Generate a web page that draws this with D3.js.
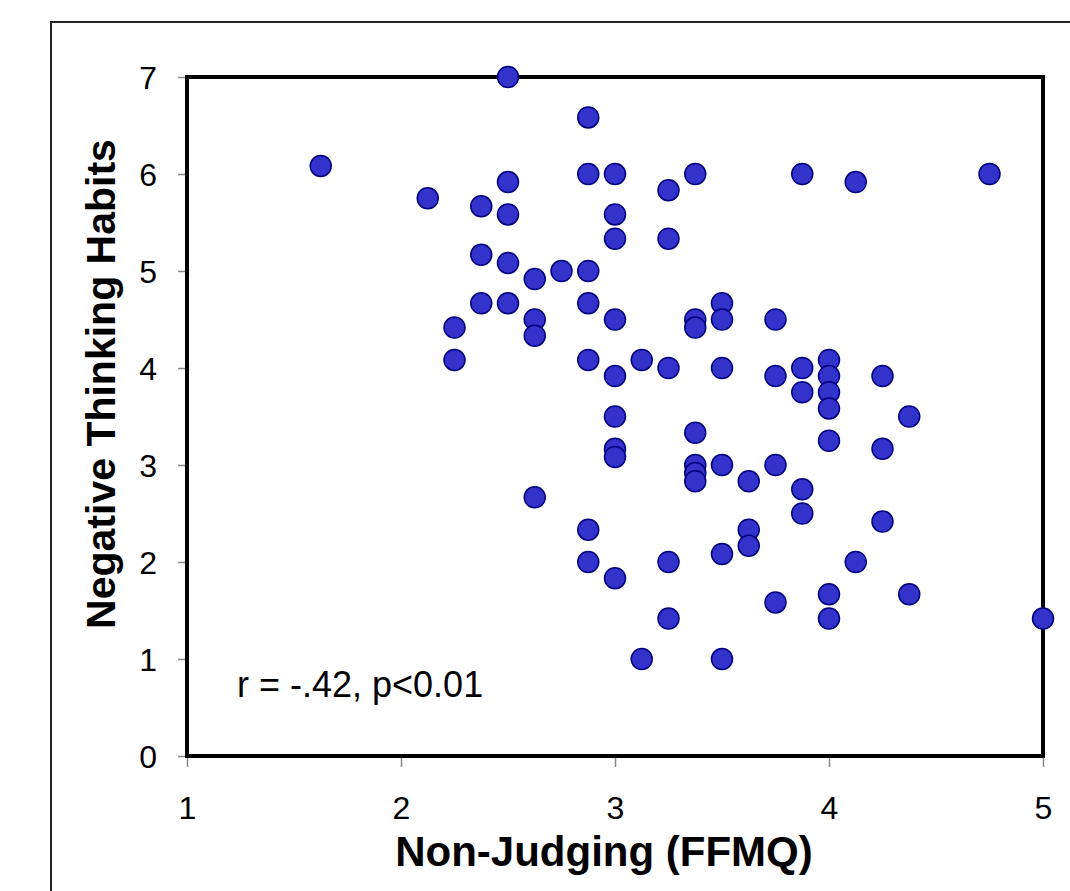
<!DOCTYPE html>
<html>
<head>
<meta charset="utf-8">
<script src="https://cdn.jsdelivr.net/npm/d3@7"></script>
<style>
  html, body { margin: 0; padding: 0; background: #ffffff; }
  svg { display: block; }
  text { font-family: "Liberation Sans", Arial, sans-serif; fill: #000; }
</style>
</head>
<body>
<svg id="chart" width="1070" height="891"></svg>
<script>
// Non-Judging (FFMQ) scores
const xValues = [
  1.625, 2.125, 2.25, 2.25, 2.375, 2.375, 2.375,
  2.5, 2.5, 2.5, 2.5, 2.5,
  2.625, 2.625, 2.625, 2.625, 2.75,
  2.875, 2.875, 2.875, 2.875, 2.875, 2.875, 2.875,
  3, 3, 3, 3, 3, 3, 3, 3, 3,
  3.125, 3.125,
  3.25, 3.25, 3.25, 3.25, 3.25,
  3.375, 3.375, 3.375, 3.375, 3.375, 3.375, 3.375,
  3.5, 3.5, 3.5, 3.5, 3.5, 3.5,
  3.625, 3.625, 3.625,
  3.75, 3.75, 3.75, 3.75,
  3.875, 3.875, 3.875, 3.875, 3.875,
  4, 4, 4, 4, 4, 4, 4,
  4.125, 4.125,
  4.25, 4.25, 4.25,
  4.375, 4.375,
  4.75, 5
];
// Negative Thinking Habits scores
const yValues = [
  6.083, 5.75, 4.417, 4.083, 5.667, 5.167, 4.667,
  7, 5.917, 5.583, 5.083, 4.667,
  4.917, 4.5, 4.333, 2.667, 5,
  6.583, 6, 5, 4.667, 4.083, 2.333, 2,
  6, 5.583, 5.333, 4.5, 3.917, 3.5, 3.167, 3.083, 1.833,
  4.083, 1,
  5.833, 5.333, 4, 2, 1.417,
  6, 4.5, 4.417, 3.333, 3, 2.917, 2.833,
  4.667, 4.5, 4, 3, 2.083, 1,
  2.833, 2.333, 2.167,
  4.5, 3.917, 3, 1.583,
  6, 4, 3.75, 2.75, 2.5,
  4.083, 3.917, 3.75, 3.583, 3.25, 1.667, 1.417,
  5.917, 2,
  3.917, 3.167, 2.417,
  3.5, 1.667,
  6, 1.417
];
const xTicks = [1, 2, 3, 4, 5];
const yTicks = [0, 1, 2, 3, 4, 5, 6, 7];
const xTitle = "Non-Judging (FFMQ)";
const yTitle = "Negative Thinking Habits";
const annotation = "r = -.42, p<0.01";

const points = xValues.map((x, i) => ({ x, y: yValues[i] }));

const svg = d3.select("#chart");
const plot = { left: 187, right: 1043, top: 77, bottom: 756 };

const x = d3.scaleLinear().domain([1, 5]).range([plot.left, plot.right]);
const y = d3.scaleLinear().domain([0, 7]).range([plot.bottom, plot.top]);

// outer frame
svg.append("rect")
  .attr("x", 51).attr("y", 22)
  .attr("width", 1100).attr("height", 1000)
  .attr("fill", "none").attr("stroke", "#222").attr("stroke-width", 2);

// axes (ticks only, gray)
const xAxis = svg.append("g")
  .attr("transform", `translate(0,${plot.bottom})`)
  .call(d3.axisBottom(x).tickValues(xTicks).tickSize(11).tickFormat(d3.format("d")));
const yAxis = svg.append("g")
  .attr("transform", `translate(${plot.left},0)`)
  .call(d3.axisLeft(y).tickValues(yTicks).tickSize(9).tickFormat(d3.format("d")));

[xAxis, yAxis].forEach(g => {
  g.select(".domain").remove();
  g.selectAll(".tick line").attr("stroke", "#888").attr("stroke-width", 1.5);
  g.selectAll(".tick text")
    .attr("font-family", "'Liberation Sans', Arial, sans-serif")
    .attr("font-size", 32).attr("fill", "#000");
});
xAxis.selectAll(".tick text").attr("dy", null).attr("y", 63);
yAxis.selectAll(".tick text").attr("x", -30).attr("dy", "0.35em");

// plot box
svg.append("rect")
  .attr("x", plot.left).attr("y", plot.top)
  .attr("width", plot.right - plot.left).attr("height", plot.bottom - plot.top)
  .attr("fill", "none").attr("stroke", "#000").attr("stroke-width", 4);

// points
svg.append("g").selectAll("circle")
  .data(points)
  .join("circle")
  .attr("cx", d => x(d.x))
  .attr("cy", d => y(d.y))
  .attr("r", 10.5)
  .attr("fill", "#3333CC")
  .attr("stroke", "#000080")
  .attr("stroke-width", 1.5);

// annotation
svg.append("text")
  .attr("x", 237).attr("y", 697)
  .attr("font-size", 36)
  .text(annotation);

// axis titles
svg.append("text")
  .attr("x", 604).attr("y", 866)
  .attr("text-anchor", "middle")
  .attr("font-size", 42).attr("font-weight", "bold")
  .text(xTitle);

svg.append("text")
  .attr("transform", "translate(115,384) rotate(-90)")
  .attr("text-anchor", "middle")
  .attr("font-size", 41).attr("font-weight", "bold")
  .text(yTitle);
</script>
</body>
</html>
